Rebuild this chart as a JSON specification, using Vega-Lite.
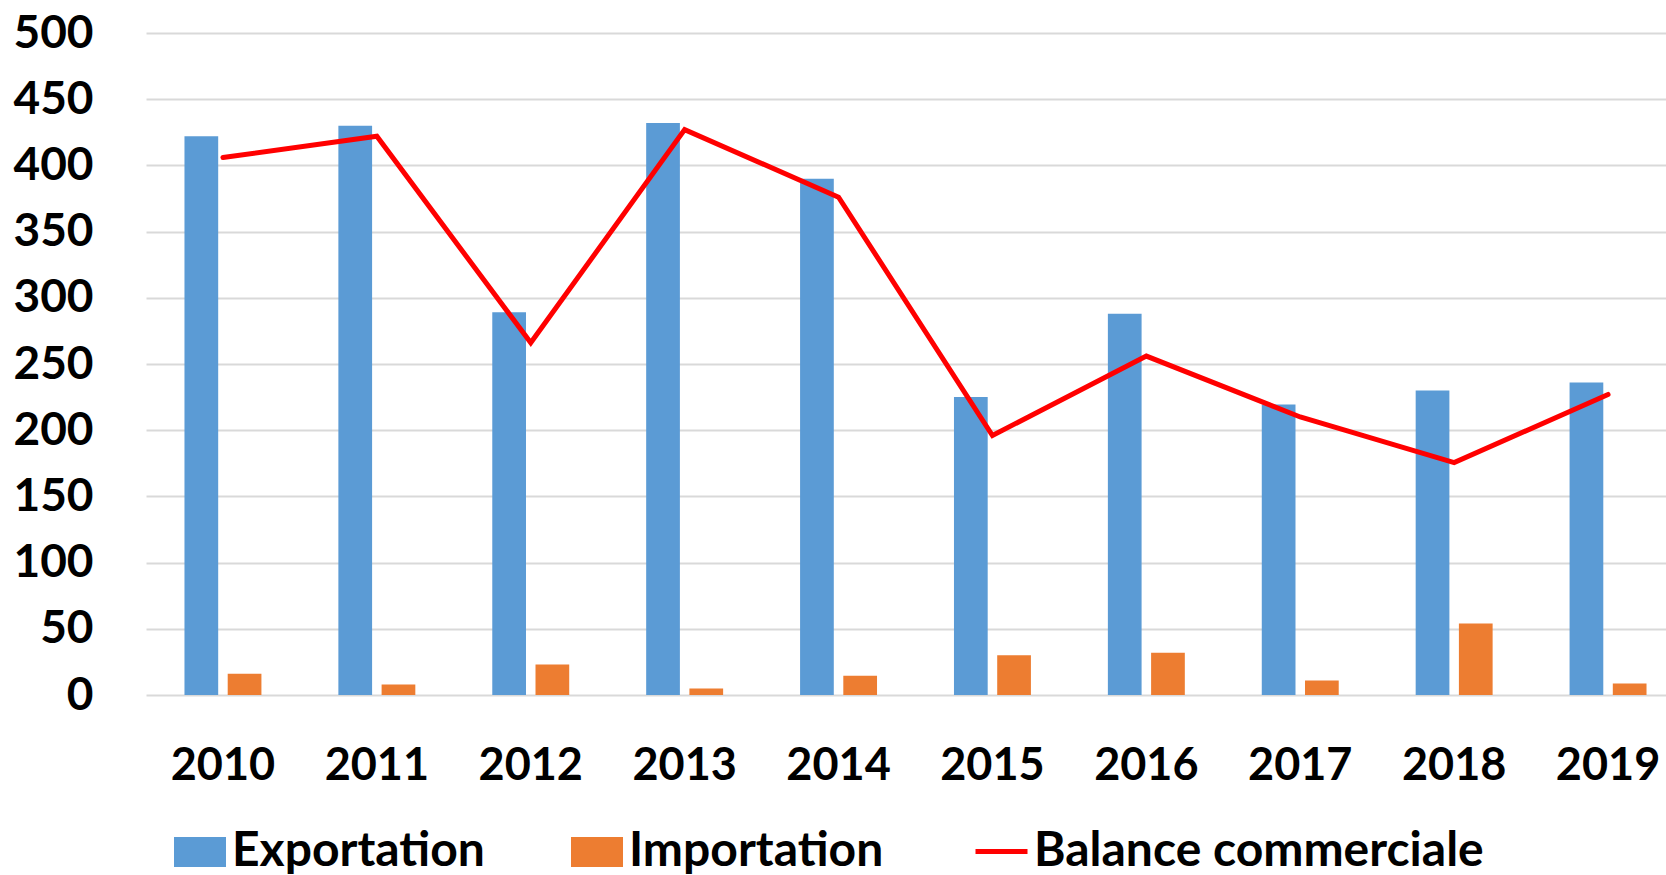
{
  "$schema": "https://vega.github.io/schema/vega-lite/v6.json",
  "autosize": "none",
  "width": 1520,
  "height": 662,
  "padding": {"left": 146, "top": 33, "right": 0, "bottom": 180},
  "background": "white",
  "config": {
    "view": {"stroke": null},
    "font": "Lato",
    "axis": {"labelFont": "Lato", "labelFontWeight": "bold", "labelColor": "black"},
    "legend": {"labelFont": "Lato", "labelFontWeight": "bold", "labelColor": "black", "labelLimit": 0}
  },
  "data": {
    "values": [
      {"year": "2010", "series": "Exportation", "value": 422},
      {"year": "2011", "series": "Exportation", "value": 430},
      {"year": "2012", "series": "Exportation", "value": 289},
      {"year": "2013", "series": "Exportation", "value": 432},
      {"year": "2014", "series": "Exportation", "value": 390},
      {"year": "2015", "series": "Exportation", "value": 225},
      {"year": "2016", "series": "Exportation", "value": 288},
      {"year": "2017", "series": "Exportation", "value": 219.5},
      {"year": "2018", "series": "Exportation", "value": 230},
      {"year": "2019", "series": "Exportation", "value": 236},
      {"year": "2010", "series": "Importation", "value": 16},
      {"year": "2011", "series": "Importation", "value": 8},
      {"year": "2012", "series": "Importation", "value": 23},
      {"year": "2013", "series": "Importation", "value": 5},
      {"year": "2014", "series": "Importation", "value": 14.5},
      {"year": "2015", "series": "Importation", "value": 30},
      {"year": "2016", "series": "Importation", "value": 32},
      {"year": "2017", "series": "Importation", "value": 11},
      {"year": "2018", "series": "Importation", "value": 54},
      {"year": "2019", "series": "Importation", "value": 8.6},
      {"year": "2010", "series": "Balance commerciale", "value": 406},
      {"year": "2011", "series": "Balance commerciale", "value": 422},
      {"year": "2012", "series": "Balance commerciale", "value": 266},
      {"year": "2013", "series": "Balance commerciale", "value": 427},
      {"year": "2014", "series": "Balance commerciale", "value": 376},
      {"year": "2015", "series": "Balance commerciale", "value": 196},
      {"year": "2016", "series": "Balance commerciale", "value": 256},
      {"year": "2017", "series": "Balance commerciale", "value": 210},
      {"year": "2018", "series": "Balance commerciale", "value": 175.5},
      {"year": "2019", "series": "Balance commerciale", "value": 227}
    ]
  },
  "encoding": {
    "x": {
      "field": "year",
      "type": "nominal",
      "scale": {"range": [0, 1539], "paddingInner": 0.5, "paddingOuter": 0.25},
      "axis": {
        "title": null,
        "labelAngle": 0,
        "labelFontSize": 45,
        "labelBaseline": "middle",
        "labelPadding": 70,
        "ticks": false,
        "domain": false,
        "grid": false
      }
    },
    "y": {
      "field": "value",
      "type": "quantitative",
      "scale": {"domain": [0, 500], "nice": false},
      "axis": {
        "title": null,
        "values": [0, 50, 100, 150, 200, 250, 300, 350, 400, 450, 500],
        "labelFontSize": 46,
        "labelPadding": 53,
        "labelBaseline": "middle",
        "ticks": false,
        "domain": false,
        "grid": true,
        "gridColor": "#D9D9D9",
        "gridWidth": 2
      }
    }
  },
  "layer": [
    {
      "transform": [{"filter": "datum.series !== 'Balance commerciale'"}],
      "mark": {"type": "bar"},
      "encoding": {
        "xOffset": {"field": "series", "type": "nominal", "scale": {"paddingInner": 0.22, "paddingOuter": 0}},
        "color": {
          "field": "series",
          "type": "nominal",
          "scale": {"domain": ["Exportation", "Importation"], "range": ["#5B9BD5", "#ED7D31"]},
          "legend": {
            "title": null,
            "orient": "none",
            "legendX": 28,
            "legendY": 793,
            "direction": "horizontal",
            "symbolType": "M-1,-0.577H1V0.577H-1Z",
            "symbolSize": 2704,
            "symbolStrokeWidth": 0,
            "symbolOpacity": 1,
            "labelFontSize": 48,
            "labelOffset": 6,
            "columnPadding": 86
          }
        }
      }
    },
    {
      "transform": [{"filter": "datum.series === 'Balance commerciale'"}],
      "mark": {"type": "line", "color": "#FF0000", "strokeWidth": 5, "strokeCap": "round"},
      "encoding": {
        "stroke": {
          "field": "series",
          "type": "nominal",
          "scale": {"domain": ["Balance commerciale"], "range": ["#FF0000"]},
          "legend": {
            "title": null,
            "orient": "none",
            "legendX": 827,
            "legendY": 790,
            "symbolType": "stroke",
            "symbolSize": 2704,
            "symbolStrokeWidth": 5,
            "labelFontSize": 48,
            "labelOffset": 4
          }
        }
      }
    }
  ]
}
